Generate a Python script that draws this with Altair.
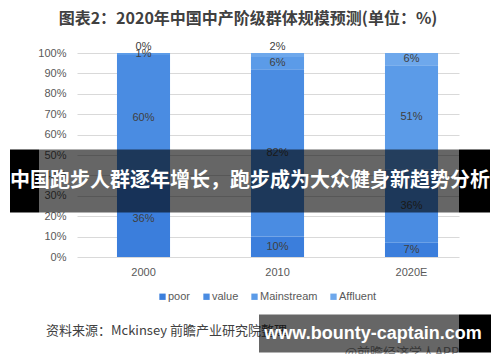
import altair as alt
import pandas as pd

years = ["2000", "2010", "2020E"]
series = ["poor", "value", "Mainstream", "Affluent"]
poor = [36, 10, 7]
value = [60, 82, 36]
mainstream = [1, 6, 51]
affluent = [0, 2, 6]
colors = ["#3B7EDC", "#4A8CE2", "#5B9BE8", "#6EA8EC"]
y_ticks = [0.0, 0.1, 0.2, 0.3, 0.4, 0.5, 0.6, 0.7, 0.8, 0.9, 1.0]

title_text = "图表2：2020年中国中产阶级群体规模预测(单位：%)"
source_text = "资料来源：Mckinsey 前瞻产业研究院整理"
banner_text = "中国跑步人群逐年增长，跑步成为大众健身新趋势分析"
site_text = "www.bounty-captain.com"
app_text = "@前瞻经济学人APP"

CJK = "Noto Sans CJK SC"
LAT = "Liberation Sans"

rows = []
vals = {"poor": poor, "value": value, "Mainstream": mainstream, "Affluent": affluent}
for i, y in enumerate(years):
    total = sum(vals[s][i] for s in series)
    cum = 0.0
    for k, s in enumerate(series):
        v = vals[s][i]
        start = cum / total
        cum += v
        end = cum / total
        rows.append({"year": y, "series": s, "order": k, "v": v,
                     "start": start, "end": end, "mid": (start + end) / 2,
                     "label": f"{v}%"})
df = pd.DataFrame(rows)

xscale = alt.Scale(domain=years, paddingInner=0.604, paddingOuter=0.2274, align=0.656)
yscale = alt.Scale(domain=[0, 1], nice=False)
cscale = alt.Scale(domain=series, range=colors)

xaxis = alt.Axis(title=None, labelAngle=0, ticks=False, domain=False,
                 labelPadding=9, labelFontSize=11, labelColor="#595959",
                 labelFont=LAT)
yaxis = alt.Axis(title=None, format=".0%", values=y_ticks,
                 ticks=False, domain=False, labelPadding=11,
                 labelOverlap=False,
                 labelFontSize=11, labelColor="#595959", labelFont=LAT,
                 gridColor="#D9D9D9")

base = alt.Chart(df)

bars = base.mark_bar().encode(
    x=alt.X("year:N", scale=xscale, sort=years, axis=xaxis),
    y=alt.Y("start:Q", scale=yscale, axis=yaxis),
    y2="end:Q",
    color=alt.Color("series:N", scale=cscale, sort=series,
                    legend=alt.Legend(title=None, orient="none", direction="horizontal",
                                      legendX=80, legendY=238, symbolType="square",
                                      symbolSize=40, symbolStrokeWidth=0,
                                      labelFontSize=11, labelColor="#595959",
                                      labelFont=LAT, columnPadding=10, labelOffset=0)),
    order="order:Q",
)

inner = base.transform_filter(
    "!(datum.series == 'Affluent' && datum.v < 3)"
).mark_text(fontSize=11, color="#404040", font=LAT, baseline="middle").encode(
    x=alt.X("year:N", scale=xscale, sort=years, axis=xaxis),
    y=alt.Y("mid:Q", scale=yscale, axis=yaxis),
    text="label:N",
)

above = base.transform_filter(
    "datum.series == 'Affluent' && datum.v < 3"
).mark_text(fontSize=11, color="#404040", font=LAT, baseline="middle", dy=-6).encode(
    x=alt.X("year:N", scale=xscale, sort=years, axis=xaxis),
    y=alt.Y("end:Q", scale=yscale, axis=yaxis),
    text="label:N",
)

one = alt.Chart(pd.DataFrame({"a": [0]}))

title = one.mark_text(align="center", baseline="middle", fontSize=16, fontWeight="bold",
                      color="#404040", font=CJK).encode(
    x=alt.value(171), y=alt.value(-34), text=alt.value(title_text))

source = one.mark_text(align="left", baseline="middle", fontSize=13, color="#404040",
                       font=CJK).encode(x=alt.value(-31), y=alt.value(277.5),
                                        text=alt.value(source_text))
app = one.mark_text(align="center", baseline="middle", fontSize=13, color="#8C8C8C",
                    font=CJK).encode(x=alt.value(325), y=alt.value(300),
                                     text=alt.value(app_text))

def rect(x1, x2, y1, y2, color, op):
    return one.mark_rect(color=color, opacity=op).encode(
        x=alt.value(x1), x2=alt.value(x2), y=alt.value(y1), y2=alt.value(y2))

b1 = rect(-67, -38, 96.5, 159.5, "#000000", 1)
b2 = rect(-38, 382, 96.5, 159.5, "#000000", 0.6)
b3 = rect(382, 413, 96.5, 159.5, "#000000", 1)
btext = one.mark_text(align="center", baseline="middle", fontSize=20, fontWeight="bold",
                      color="#FFFFFF", font=CJK).encode(
    x=alt.value(173), y=alt.value(128), text=alt.value(banner_text))

s1 = rect(182, 382, 261.5, 299.5, "#000000", 0.6)
s2 = rect(382, 414, 261.5, 299.5, "#000000", 1)
stext = one.mark_text(align="center", baseline="middle", fontSize=18, fontWeight="bold",
                      color="#FFFFFF", font=LAT).encode(
    x=alt.value(296), y=alt.value(281), text=alt.value(site_text))

chart = alt.layer(
    bars, inner, above, title, source, app, b1, b2, b3, btext, s1, s2, stext
).properties(
    width=382, height=204,
    autosize=alt.AutoSizeParams(type="none"),
    padding={"left": 69, "top": 45, "right": 33, "bottom": 97},
).configure_view(stroke=None)

chart.save("out.html", embed_options={"renderer": "svg", "actions": False})
